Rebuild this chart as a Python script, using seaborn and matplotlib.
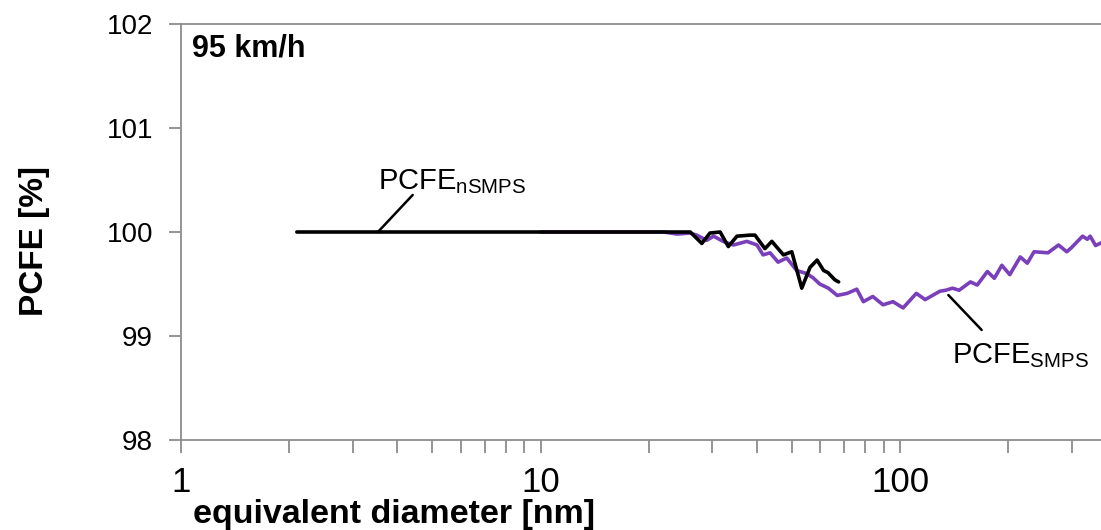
import numpy as np
import pandas as pd
import matplotlib
matplotlib.use("Agg")
import matplotlib.pyplot as plt
from matplotlib.ticker import LogLocator, FixedLocator, NullFormatter, FuncFormatter
import seaborn as sns

# ---- data ----
nsmps_d = [2.1, 26.1, 28.1, 29.6, 31.6, 33.3, 35.2, 38.3, 39.5, 42.1, 44.0, 47.4, 50.0,
           53.3, 56.2, 58.8, 61.3, 63.0, 65.9, 67.5]
nsmps_pcfe = [100.0, 100.0, 99.89, 99.99, 100.0, 99.86, 99.96, 99.97, 99.97, 99.84, 99.91,
              99.78, 99.81, 99.46, 99.66, 99.73, 99.63, 99.61, 99.54, 99.52]

smps_d = [10.0, 22.0, 24.0, 26.0, 27.2, 29.0, 30.3, 32.2, 34.4, 37.5, 40.0, 41.6, 43.5, 45.8,
          48.4, 51.6, 55.0, 57.3, 59.8, 63.2, 66.9, 71.3, 75.8, 79.1, 84.0, 89.7, 95.6, 102,
          111, 117.5, 129, 134, 140, 146, 157, 164, 175, 183, 192, 202, 216, 226, 236, 258,
          276, 291, 300, 322, 332, 338, 350, 365]
smps_pcfe = [100.0, 100.0, 99.98, 99.99, 99.97, 99.92, 99.96, 99.91, 99.875, 99.91, 99.875,
             99.78, 99.80, 99.71, 99.75, 99.63, 99.60, 99.56, 99.50, 99.46, 99.39, 99.41,
             99.45, 99.33, 99.38, 99.30, 99.33, 99.27, 99.41, 99.35, 99.43, 99.44, 99.46,
             99.44, 99.52, 99.49, 99.62, 99.555, 99.68, 99.59, 99.76, 99.70, 99.81, 99.80,
             99.875, 99.81, 99.85, 99.96, 99.93, 99.96, 99.87, 99.90]

x_ticks = [1, 10, 100]
y_ticks = [98, 99, 100, 101, 102]

label_nsmps = r"$\mathrm{PCFE}_{\mathrm{nSMPS}}$"
label_smps = r"$\mathrm{PCFE}_{\mathrm{SMPS}}$"
panel_title = "95 km/h"
x_label = "equivalent diameter [nm]"
y_label = "PCFE [%]"

# annotation anchors (text position, leader start, leader end) in data coords
ann_nsmps = dict(text=(3.53, 100.41), line=((3.53, 100.0), (4.41, 100.356)))
ann_smps = dict(text=(139.2, 98.74), line=((136.3, 99.394), (168.7, 99.058)))

# ---- style ----
sns.set_style("ticks")
plt.rcParams["font.family"] = ["Liberation Sans", "DejaVu Sans"]
plt.rcParams["mathtext.fontset"] = "custom"
plt.rcParams["mathtext.rm"] = "Liberation Sans"
plt.rcParams["mathtext.it"] = "Liberation Sans:italic"
plt.rcParams["mathtext.bf"] = "Liberation Sans:bold"
plt.rcParams["text.color"] = "black"

W, H = 1101, 530
fig = plt.figure(figsize=(W / 100, H / 100), dpi=100)
ax = fig.add_axes([181 / W, (H - 440) / H, 1078.5 / W, 416 / H])

df_n = pd.DataFrame({"d": nsmps_d, "pcfe": nsmps_pcfe})
df_s = pd.DataFrame({"d": smps_d, "pcfe": smps_pcfe})

purple = "#7a3fba"
sns.lineplot(data=df_s, x="d", y="pcfe", ax=ax, color=purple, linewidth=2.6,
             estimator=None, sort=False)
sns.lineplot(data=df_n, x="d", y="pcfe", ax=ax, color="black", linewidth=2.6,
             estimator=None, sort=False)
for ln in ax.lines:
    ln.set_solid_joinstyle("round")
    ln.set_solid_capstyle("round")

ax.set_xscale("log")
ax.set_xlim(1, 1000)
ax.set_ylim(98, 102)
ax.xaxis.set_major_locator(FixedLocator(x_ticks))
ax.xaxis.set_minor_locator(LogLocator(base=10, subs=np.arange(2, 10)))
ax.xaxis.set_minor_formatter(NullFormatter())
ax.xaxis.set_major_formatter(FuncFormatter(lambda v, p: f"{v:g}"))
ax.yaxis.set_major_locator(FixedLocator(y_ticks))
ax.set_xlabel("")
ax.set_ylabel("")

spine_col = "#8c8c8c"
for s in ["left", "bottom", "top", "right"]:
    ax.spines[s].set_visible(True)
    ax.spines[s].set_color(spine_col)
    ax.spines[s].set_linewidth(1.3)
ax.tick_params(axis="both", which="both", direction="out", color=spine_col, width=1.3,
               labelcolor="black")
ax.tick_params(axis="x", which="both", length=9, pad=10, labelsize=25)
ax.tick_params(axis="y", which="major", length=9, pad=11, labelsize=20)
ax.tick_params(top=False, right=False, which="both")

# annotations
for ann, lab in [(ann_nsmps, label_nsmps), (ann_smps, label_smps)]:
    (x0, y0), (x1, y1) = ann["line"]
    ax.plot([x0, x1], [y0, y1], color="black", linewidth=1.8)
    ax.text(ann["text"][0], ann["text"][1], lab, fontsize=21, ha="left", va="baseline",
            color="black")

fig.text(191.7 / W, (H - 56.7) / H, panel_title, fontsize=22, fontweight="bold",
         ha="left", va="baseline", color="black")
fig.text(35 / W, (H - 241) / H, y_label, fontsize=24, fontweight="bold", rotation=90,
         ha="center", va="center", color="black")
fig.text(193 / W, (H - 523) / H, x_label, fontsize=24.5, fontweight="bold",
         ha="left", va="baseline", color="black")

fig.savefig("out.png", dpi=100)
